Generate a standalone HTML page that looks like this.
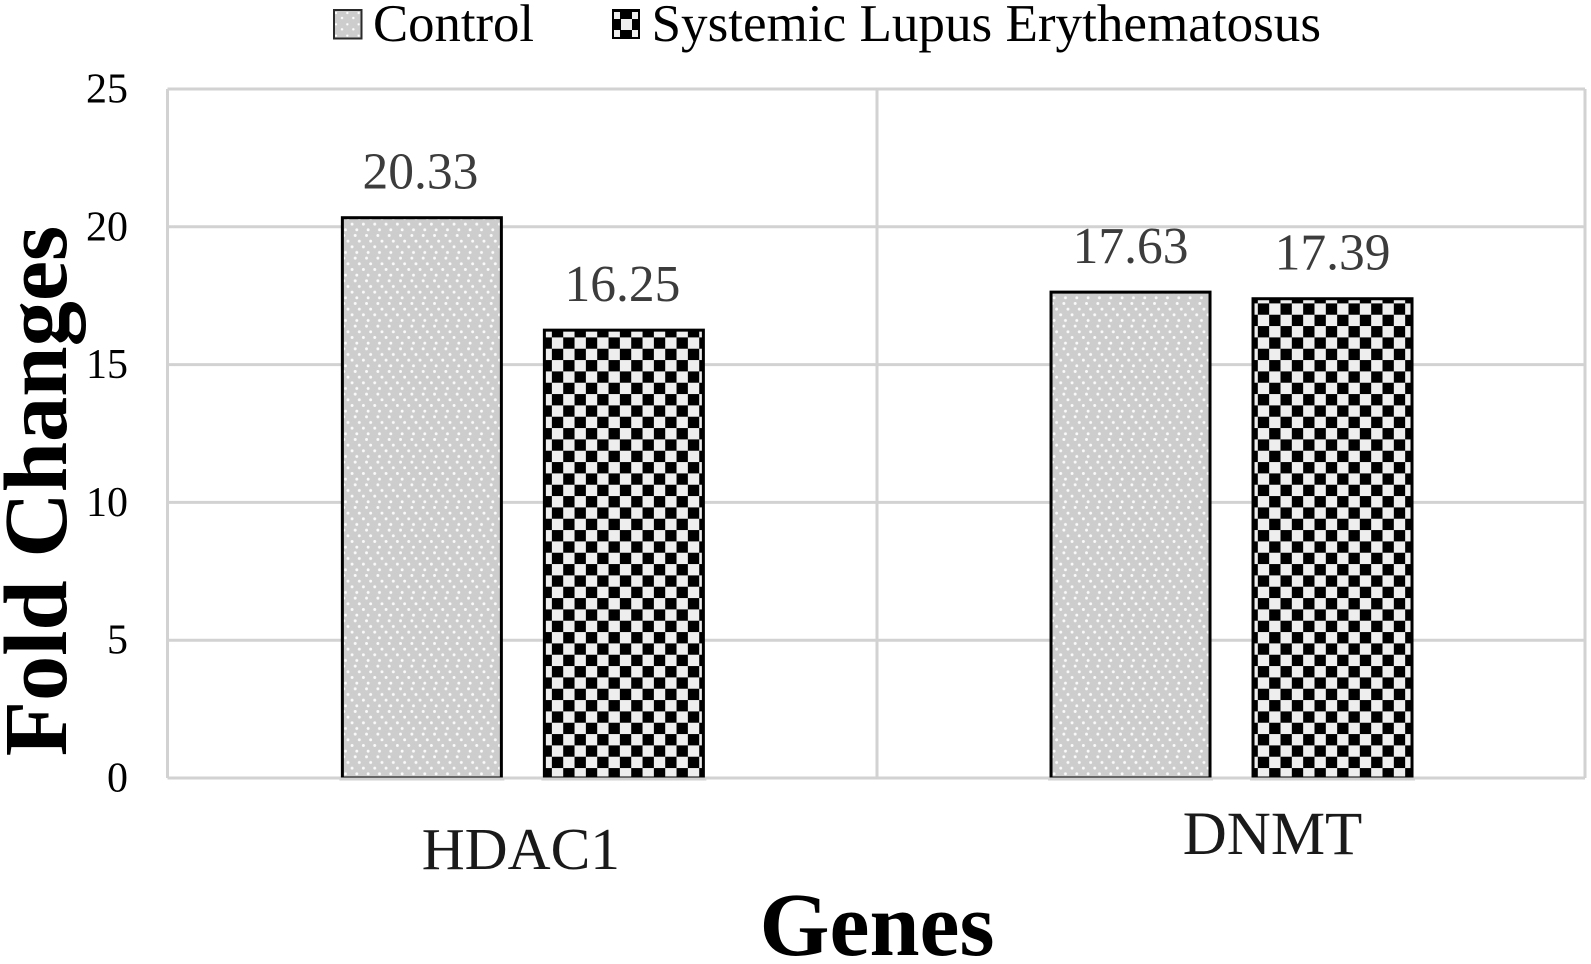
<!DOCTYPE html>
<html lang="en">
<head>
<meta charset="utf-8">
<title>Fold Changes by Gene</title>
<style>
html,body{margin:0;padding:0;background:#fff;}
svg{display:block;font-family:"Liberation Serif","Times New Roman",serif;}
</style>
</head>
<body>
<svg id="chart" xmlns="http://www.w3.org/2000/svg" width="1591" height="964" viewBox="0 0 1591 964">
  <defs>
    <pattern id="dots-legend" patternUnits="userSpaceOnUse" width="11.33" height="11.33" x="334" y="10">
      <rect width="11.33" height="11.33" fill="#cdcdcd"/>
      <circle cx="2" cy="3" r="1.2" fill="#fff"/>
      <circle cx="8" cy="8" r="1.2" fill="#fff"/>
    </pattern>
  </defs>
  <rect width="1591" height="964" fill="#fff"/>
  <g id="grid"></g>
  <g id="bars"></g>
  <g id="labels"></g>
  <g id="ticks"></g>
  <g id="cats"></g>

  <g>
    <g>
      <rect x="334" y="10" width="27.5" height="28.5" fill="url(#dots-legend)" stroke="#2a2a2a" stroke-width="2"/>
      <text x="373" y="41" font-size="52.7" fill="#000">Control</text>
    </g>
    <g>
      <rect x="612" y="9" width="28" height="30" fill="#000"/>
      <g fill="#eee">
        <rect x="621" y="19" width="11" height="11"/>
        <rect x="614" y="12" width="6" height="7"/>
        <rect x="632" y="12" width="6" height="7"/>
        <rect x="614" y="30" width="6" height="7"/>
        <rect x="632" y="30" width="6" height="7"/>
      </g>
      <text x="651.5" y="41" font-size="53.1" fill="#000">Systemic Lupus Erythematosus</text>
    </g>
  </g>

  <text transform="translate(66 491) rotate(-90)" text-anchor="middle" font-size="90.5" font-weight="bold" fill="#000">Fold Changes</text>
  <text x="877" y="955" text-anchor="middle" font-size="90" font-weight="bold" fill="#000">Genes</text>
</svg>

<script>
const categories = ['HDAC1', 'DNMT'];
const seriesNames = ['Control', 'Systemic Lupus Erythematosus'];
const controlValues = [20.33, 17.63];
const lupusValues = [16.25, 17.39];
const yTicks = [0, 5, 10, 15, 20, 25];

const NS = 'http://www.w3.org/2000/svg';
const plot = { left: 167.5, right: 1585, mid: 877, top: 89, bottom: 778 };
const yMax = 25;
const barWidth = 159;
const barGap = 43;
const catOffsets = [1.0, 0.9];
const catLabelBaselines = [869, 854];
const catLabelShift = [-2, 41];
const catLabelSizes = [59.5, 61];
const checkerPhase = [7.5, 4.8];
const valueLabelShift = [-1.5, 0];

function yScale(v) {
  return plot.bottom - (v / yMax) * (plot.bottom - plot.top);
}
function catCenter(i) {
  return plot.left + (i + 0.5) * (plot.right - plot.left) / categories.length + catOffsets[i];
}
function barLeft(catIndex, seriesIndex) {
  const groupWidth = barWidth * 2 + barGap;
  return catCenter(catIndex) - groupWidth / 2 + seriesIndex * (barWidth + barGap);
}
function mk(tag, props, parent) {
  const el = document.createElementNS(NS, tag);
  for (const k in props) el.setAttribute(k, props[k]);
  if (parent) parent.appendChild(el);
  return el;
}

const defs = document.querySelector('#chart defs');
const cell = 34 / 3;

function dotPattern(id, originX, originY) {
  const p = mk('pattern', {
    id: id, patternUnits: 'userSpaceOnUse', width: cell * 2, height: cell * 2,
    patternTransform: 'translate(' + originX + ' ' + originY + ')'
  }, defs);
  mk('rect', { width: cell * 2, height: cell * 2, fill: '#cdcdcd' }, p);
  const shifts = [0, 4.1, 8.2, 1.6];
  shifts.forEach(function (s, row) {
    [0, 1].forEach(function (c) {
      mk('circle', {
        cx: (s + c * cell + 1.5) % (cell * 2),
        cy: row * cell / 2 + 1.5,
        r: 1.45,
        fill: '#fbfbfb'
      }, p);
    });
  });
  return id;
}
function checkPattern(id, originX, originY) {
  const p = mk('pattern', {
    id: id, patternUnits: 'userSpaceOnUse', width: cell * 2, height: cell * 2,
    patternTransform: 'translate(' + originX + ' ' + originY + ')'
  }, defs);
  mk('rect', { width: cell * 2, height: cell * 2, fill: '#000' }, p);
  mk('rect', { x: 0, y: 0, width: cell, height: cell, fill: '#eeeeee' }, p);
  mk('rect', { x: cell, y: cell, width: cell, height: cell, fill: '#eeeeee' }, p);
  return id;
}

const gridG = document.getElementById('grid');
yTicks.forEach(function (t) {
  const line = mk('line', {
    x1: plot.left, x2: plot.right, y1: yScale(t), y2: yScale(t),
    stroke: '#d2d2d2', 'stroke-width': 3
  }, gridG);
  
  
});
[plot.left, plot.mid, plot.right].forEach(function (x, i) {
  const line = mk('line', {
    x1: x, x2: x, y1: plot.top, y2: plot.bottom,
    stroke: '#d2d2d2', 'stroke-width': 3
  }, gridG);
  
  
});

const tickG = document.getElementById('ticks');
yTicks.forEach(function (t) {
  const txt = mk('text', {
    x: 128, y: yScale(t) + 13.5, 'text-anchor': 'end', 'font-size': 42, fill: '#000'
  }, tickG);
  
  
  txt.textContent = String(t);
});

const barsG = document.getElementById('bars');
const labelsG = document.getElementById('labels');
const seriesValues = [controlValues, lupusValues];
const seriesKeys = ['control', 'lupus'];

seriesValues.forEach(function (values, s) {
  values.forEach(function (v, c) {
    const x = barLeft(c, s);
    const top = yScale(v);
    const pid = 'fill-' + seriesKeys[s] + '-' + c;
    if (s === 0) {
      dotPattern(pid, x, plot.bottom);
    } else {
      checkPattern(pid, x + checkerPhase[c], 337.4);
    }
    const bar = mk('rect', {
      x: x, y: top, width: barWidth, height: plot.bottom - top,
      fill: 'url(#' + pid + ')', stroke: '#000', 'stroke-width': 3
    }, barsG);
    
    
    const cover = mk('line', {
      x1: x - 3, x2: x + barWidth + 3, y1: plot.bottom + 1, y2: plot.bottom + 1,
      stroke: '#d2d2d2', 'stroke-width': 3
    }, barsG);
    
    

    const label = mk('text', {
      x: x + barWidth / 2 + valueLabelShift[c], y: top - 29, 'text-anchor': 'middle',
      'font-size': 51.5, fill: '#3c3c3c'
    }, labelsG);
    
    
    label.textContent = v.toFixed(2);
  });
});

const catsG = document.getElementById('cats');
categories.forEach(function (name, i) {
  const txt = mk('text', {
    x: catCenter(i) + catLabelShift[i], y: catLabelBaselines[i],
    'text-anchor': 'middle', 'font-size': catLabelSizes[i], fill: '#1a1a1a'
  }, catsG);
  
  
  txt.textContent = name;
});
</script>
</body>
</html>
